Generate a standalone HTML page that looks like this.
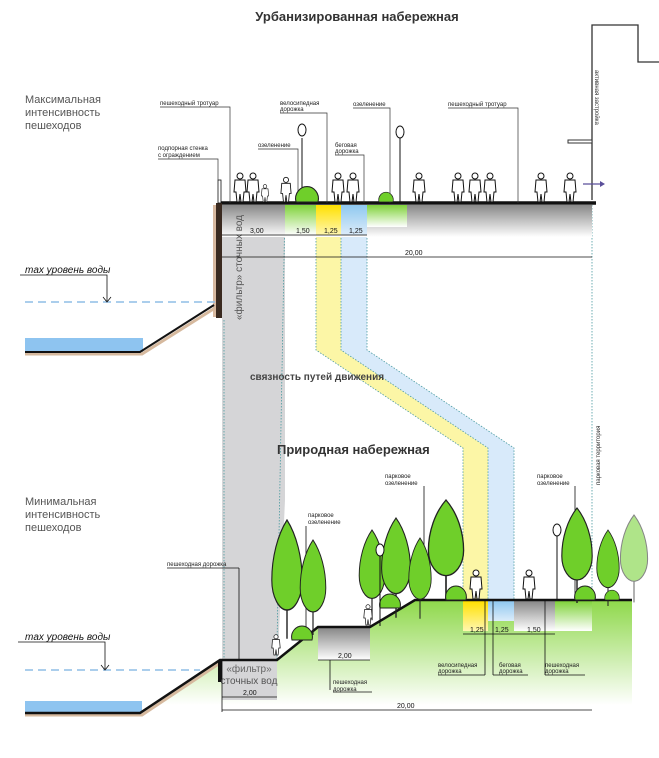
<!DOCTYPE html>
<html><head><meta charset="utf-8"><style>
html,body{margin:0;padding:0;background:#fff}
svg{display:block}
text{font-family:"Liberation Sans","DejaVu Sans",sans-serif}
.s{font-size:6px;fill:#222}
.d{font-size:7px;fill:#111}
</style></head><body>
<svg width="659" height="758" viewBox="0 0 659 758" xmlns="http://www.w3.org/2000/svg">
<defs>
<linearGradient id="gg" x1="0" y1="0" x2="0" y2="1"><stop offset="0" stop-color="#888"/><stop offset="1" stop-color="#fff"/></linearGradient>
<linearGradient id="gr" x1="0" y1="0" x2="0" y2="1"><stop offset="0" stop-color="#7fd23a"/><stop offset="1" stop-color="#fff"/></linearGradient>
<linearGradient id="yl" x1="0" y1="0" x2="0" y2="1"><stop offset="0" stop-color="#ffe000"/><stop offset="1" stop-color="#fff7b0"/></linearGradient>
<linearGradient id="bl" x1="0" y1="0" x2="0" y2="1"><stop offset="0" stop-color="#8fc8ef"/><stop offset="1" stop-color="#dcecfa"/></linearGradient>
<linearGradient id="hill" gradientUnits="userSpaceOnUse" x1="0" y1="600" x2="0" y2="705"><stop offset="0" stop-color="#8ed84a"/><stop offset="1" stop-color="#fff"/></linearGradient>
<g id="tree"><line x1="0" y1="40" x2="0" y2="95" stroke="#222" stroke-width="1.5"/><path d="M0,0 C10,12 16,30 16,48 C16,62 8,72 0,72 C-8,72 -16,62 -16,48 C-16,30 -10,12 0,0Z" fill="#6fcf2a" stroke="#222" stroke-width="1.2"/></g>
<g id="man"><circle cx="0" cy="-26" r="3" fill="#fff" stroke="#111" stroke-width="1"/><path d="M-5,-22 h10 l1,12 h-2 l-1,10 h-2 l-1,-8 l-1,8 h-2 l-1,-10 h-2z" fill="#fff" stroke="#111" stroke-width="1"/></g>
<g id="bush"><path d="M-10,0 C-12,-8 -6,-14 0,-14 C6,-14 12,-8 10,0Z" fill="#6fcf2a" stroke="#222" stroke-width="1"/></g>
</defs>

<text x="357" y="21" font-size="13" font-weight="bold" text-anchor="middle" fill="#333">Урбанизированная набережная</text>
<text x="25" y="103" font-size="11" fill="#555">Максимальная</text>
<text x="25" y="116" font-size="11" fill="#555">интенсивность</text>
<text x="25" y="129" font-size="11" fill="#555">пешеходов</text>
<text x="25" y="505" font-size="11" fill="#555">Минимальная</text>
<text x="25" y="518" font-size="11" fill="#555">интенсивность</text>
<text x="25" y="531" font-size="11" fill="#555">пешеходов</text>

<path d="M592,200 V25 H638 V62 H659" fill="none" stroke="#333" stroke-width="1.3"/>
<rect x="568" y="140" width="24" height="3" fill="#fff" stroke="#333"/>
<text transform="translate(595,70) rotate(90)" font-size="6" fill="#333">активная застройка</text>
<line x1="583" y1="184" x2="600" y2="184" stroke="#5a4f9a" stroke-width="1.3"/><path d="M600,181 L605,184 L600,187Z" fill="#5a4f9a"/>

<path d="M222,205 H285 V500 L276,700 H222Z" fill="#d5d5d7"/>
<line x1="285" y1="205" x2="276" y2="700" stroke="#4a9aa0" stroke-width="0.8" stroke-dasharray="1.5,1.5"/>
<line x1="224" y1="320" x2="224" y2="660" stroke="#4a9aa0" stroke-width="0.8" stroke-dasharray="1.5,1.5"/>
<path d="M316,205 H341 V350 L488,448 V600 H463 V448 L316,350Z" fill="#fcf6a6"/>
<path d="M341,205 H367 V350 L514,448 V600 H488 V448 L341,350Z" fill="#d8eafa"/>
<path d="M316,205 V350 L463,448 V600 M341,235 V350 L488,448 V600 M367,205 V350 L514,448 V600" fill="none" stroke="#4a9aa0" stroke-width="0.8" stroke-dasharray="1.5,1.5"/>
<line x1="592" y1="205" x2="592" y2="710" stroke="#4a9aa0" stroke-width="0.8" stroke-dasharray="1.5,1.5"/>

<rect x="222" y="205" width="370" height="32" fill="url(#gg)"/>
<rect x="285" y="205" width="31" height="30" fill="url(#gr)"/>
<rect x="316" y="205" width="25" height="30" fill="url(#yl)"/>
<rect x="341" y="205" width="26" height="30" fill="url(#bl)"/>
<rect x="367" y="205" width="40" height="22" fill="url(#gr)"/>
<line x1="218" y1="203" x2="596" y2="203" stroke="#111" stroke-width="3.5"/>
<rect x="216" y="203" width="6" height="115" fill="#3a2a20"/>
<rect x="213" y="205" width="3" height="112" fill="#d8b9a0"/>
<rect x="218" y="180" width="3" height="23" fill="#fff" stroke="#111" stroke-width="0.8"/>
<text transform="translate(242,320) rotate(-90)" font-size="10" fill="#555">«фильтр» сточных вод</text>

<line x1="222" y1="235" x2="367" y2="235" stroke="#111" stroke-width="0.8"/>
<line x1="222" y1="257" x2="592" y2="257" stroke="#111" stroke-width="0.8"/>
<text x="250" y="233" class="d">3,00</text><text x="296" y="233" class="d">1,50</text><text x="324" y="233" class="d">1,25</text><text x="349" y="233" class="d">1,25</text>
<text x="405" y="255" class="d">20,00</text>

<line x1="25" y1="302" x2="215" y2="302" stroke="#8fbde6" stroke-width="1.5" stroke-dasharray="8,5"/>
<rect x="25" y="338" width="118" height="14" fill="#8ec4f0"/>
<path d="M25,354 H142 L215,308" fill="none" stroke="#d6b99e" stroke-width="3"/>
<path d="M25,352 H140 L214,305" fill="none" stroke="#111" stroke-width="2"/>
<text x="25" y="273" font-size="10" font-style="italic" fill="#111">max уровень воды</text>
<path d="M20,275 H107 V301 M103,297 L107,302 L111,297" fill="none" stroke="#111" stroke-width="0.8"/>

<g stroke="#333" stroke-width="0.7" fill="none">
<path d="M160,107 H230 V203"/><path d="M280,113 H327 V203"/><path d="M353,108 H390 V203"/><path d="M448,108 H518 V203"/>
<path d="M158,159 H218 V180"/><path d="M258,149 H298 V203"/><path d="M335,155 H364 V203"/>
</g>
<text x="160" y="105" class="s">пешеходный тротуар</text>
<text x="280" y="105" class="s">велосипедная</text><text x="280" y="111" class="s">дорожка</text>
<text x="353" y="106" class="s">озеленение</text>
<text x="448" y="106" class="s">пешеходный тротуар</text>
<text x="158" y="150" class="s">подпорная стенка</text><text x="158" y="157" class="s">с ограждением</text>
<text x="258" y="147" class="s">озеленение</text>
<text x="335" y="147" class="s">беговая</text><text x="335" y="153" class="s">дорожка</text>

<g stroke="#111" fill="#fff" stroke-width="1"><line x1="302" y1="138" x2="302" y2="202"/><ellipse cx="302" cy="130" rx="4" ry="6"/><line x1="400" y1="138" x2="400" y2="202"/><ellipse cx="400" cy="132" rx="4" ry="6"/></g>
<g transform="translate(240,202)"><use href="#man"/></g>
<g transform="translate(253,202)"><use href="#man"/></g>
<g transform="translate(265,202) scale(0.6)"><use href="#man"/></g>
<g transform="translate(286,202) scale(0.85)"><use href="#man"/></g>
<g transform="translate(338,202)"><use href="#man"/></g>
<g transform="translate(353,202)"><use href="#man"/></g>
<g transform="translate(419,202)"><use href="#man"/></g>
<g transform="translate(458,202)"><use href="#man"/></g>
<g transform="translate(475,202)"><use href="#man"/></g>
<g transform="translate(490,202)"><use href="#man"/></g>
<g transform="translate(541,202)"><use href="#man"/></g>
<g transform="translate(570,202)"><use href="#man"/></g>
<g transform="translate(307,202) scale(1.1)"><use href="#bush"/></g>
<g transform="translate(386,202) scale(0.7)"><use href="#bush"/></g>

<text x="250" y="380" font-size="10" font-weight="bold" fill="#444">связность путей движения</text>
<text x="277" y="454" font-size="13" font-weight="bold" fill="#333">Природная набережная</text>
<text transform="translate(600,485) rotate(-90)" font-size="6" fill="#333">парковая территория</text>

<path d="M140,713 L220,660 H277 L318,627 H370 L415,600 H632 V720 H140Z" fill="url(#hill)"/>
<path d="M222,660 H277 V700 H222Z" fill="#d5d5d7"/>
<rect x="318" y="628" width="52" height="32" fill="url(#gg)"/>
<rect x="463" y="601" width="25" height="30" fill="url(#yl)"/>
<rect x="488" y="601" width="26" height="20" fill="url(#bl)"/>
<rect x="514" y="601" width="41" height="30" fill="url(#gg)"/>
<rect x="555" y="601" width="37" height="30" fill="url(#gr)"/>
<line x1="25" y1="670" x2="200" y2="670" stroke="#8fbde6" stroke-width="1.5" stroke-dasharray="8,5"/>
<rect x="25" y="701" width="117" height="12" fill="#8ec4f0"/>
<path d="M25,715 H142 L220,663" fill="none" stroke="#d6b99e" stroke-width="3"/>
<path d="M25,713 H140 L220,660 H277 L318,627 H370 L415,600 H632" fill="none" stroke="#111" stroke-width="2.5"/>
<rect x="218" y="660" width="4" height="22" fill="#111"/>
<text x="25" y="640" font-size="10" font-style="italic" fill="#111">max уровень воды</text>
<path d="M18,642 H105 V669 M101,665 L105,670 L109,665" fill="none" stroke="#111" stroke-width="0.8"/>
<text x="249" y="672" font-size="10" fill="#666" text-anchor="middle">«фильтр»</text>
<text x="249" y="684" font-size="10" fill="#555" text-anchor="middle">сточных вод</text>

<g stroke="#111" stroke-width="0.8" fill="none">
<line x1="222" y1="697" x2="277" y2="697"/><line x1="222" y1="710" x2="592" y2="710"/><line x1="222" y1="660" x2="222" y2="712"/>
<line x1="318" y1="660" x2="370" y2="660"/><line x1="463" y1="634" x2="555" y2="634"/>
<path d="M239,568 H167 M239,568 V660"/><path d="M330,690 V660"/>
<path d="M306,526 V630"/><path d="M424,486 V600"/><path d="M575,486 V600"/>
<path d="M485,675 V600"/><path d="M493,675 V600"/><path d="M545,675 V600"/>
<path d="M333,692 H372"/><path d="M438,675 H485"/><path d="M493,675 H528"/><path d="M545,675 H585"/>
</g>
<text x="243" y="695" class="d">2,00</text><text x="338" y="658" class="d">2,00</text>
<text x="470" y="632" class="d">1,25</text><text x="495" y="632" class="d">1,25</text><text x="527" y="632" class="d">1,50</text>
<text x="397" y="708" class="d">20,00</text>
<text x="167" y="566" class="s">пешеходная дорожка</text>
<text x="333" y="684" class="s">пешеходная</text><text x="333" y="691" class="s">дорожка</text>
<text x="308" y="517" class="s">парковое</text><text x="308" y="524" class="s">озеленение</text>
<text x="385" y="478" class="s">парковое</text><text x="385" y="485" class="s">озеленение</text>
<text x="537" y="478" class="s">парковое</text><text x="537" y="485" class="s">озеленение</text>
<text x="438" y="667" class="s">велосипедная</text><text x="438" y="673" class="s">дорожка</text>
<text x="499" y="667" class="s">беговая</text><text x="499" y="673" class="s">дорожка</text>
<text x="545" y="667" class="s">пешеходная</text><text x="545" y="673" class="s">дорожка</text>

<g transform="translate(287,520) scale(0.95,1.25)"><use href="#tree"/></g>
<g transform="translate(313,540) scale(0.8,1.0)"><use href="#tree"/></g>
<g transform="translate(372,530) scale(0.8,0.95)"><use href="#tree"/></g>
<g transform="translate(396,518) scale(0.9,1.05)"><use href="#tree"/></g>
<g transform="translate(420,538) scale(0.7,0.85)"><use href="#tree"/></g>
<g transform="translate(446,500) scale(1.1,1.05)"><use href="#tree"/></g>
<g transform="translate(577,508) scale(0.95,1.0)"><use href="#tree"/></g>
<g transform="translate(608,530) scale(0.7,0.8)"><use href="#tree"/></g>
<g transform="translate(634,515) scale(0.85,0.92)" opacity="0.55"><use href="#tree"/></g>
<g transform="translate(302,640)"><use href="#bush"/></g>
<g transform="translate(390,608)"><use href="#bush"/></g>
<g transform="translate(456,600)"><use href="#bush"/></g>
<g transform="translate(585,600)"><use href="#bush"/></g>
<g transform="translate(612,600) scale(0.7)"><use href="#bush"/></g>
<g stroke="#111" fill="#fff" stroke-width="1"><line x1="380" y1="556" x2="380" y2="626"/><ellipse cx="380" cy="550" rx="4" ry="6"/><line x1="557" y1="536" x2="557" y2="599"/><ellipse cx="557" cy="530" rx="4" ry="6"/></g>
<g transform="translate(476,599)"><use href="#man"/></g>
<g transform="translate(529,599)"><use href="#man"/></g>
<g transform="translate(276,655) scale(0.7)"><use href="#man"/></g>
<g transform="translate(368,625) scale(0.7)"><use href="#man"/></g>
</svg>
</body></html>
